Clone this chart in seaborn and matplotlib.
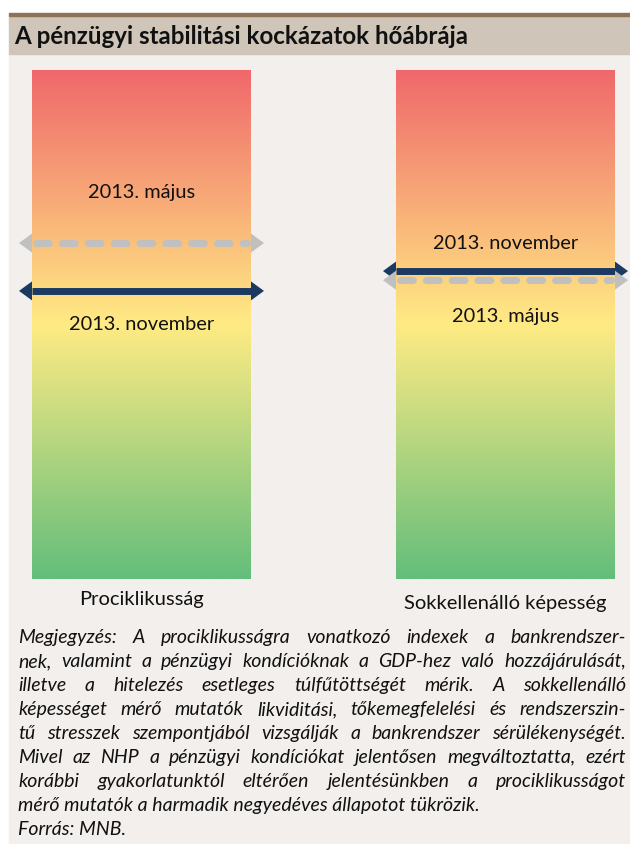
import numpy as np
import seaborn as sns
import matplotlib.pyplot as plt
from matplotlib.patches import Rectangle

# chart data
categories = ['Prociklikusság', 'Sokkellenálló képesség']
# risk level of each indicator, share of bar height measured from the bottom
level_may = [0.66, 0.587]
level_nov = [0.566, 0.605]
label_may = '2013. május'
label_nov = '2013. november'
title = 'A pénzügyi stabilitási kockázatok hőábrája'
note_lines = [
    'Megjegyzés: A prociklikusságra vonatkozó indexek a bankrendszer-',
    'nek, valamint a pénzügyi kondícióknak a GDP-hez való hozzájárulását,',
    'illetve a hitelezés esetleges túlfűtöttségét mérik. A sokkellenálló',
    'képességet mérő mutatók likviditási, tőkemegfelelési és rendszerszin-',
    'tű stresszek szempontjából vizsgálják a bankrendszer sérülékenységét.',
    'Mivel az NHP a pénzügyi kondíciókat jelentősen megváltoztatta, ezért',
    'korábbi gyakorlatunktól eltérően jelentésünkben a prociklikusságot',
    'mérő mutatók a harmadik negyedéves állapotot tükrözik.',
    'Forrás: MNB.',
]

sns.set_theme(style='white')
plt.rcParams['font.family'] = ['Lato', 'DejaVu Sans']

W, H = 630, 845
fig = plt.figure(figsize=(W / 100, H / 100), dpi=100)
ax = fig.add_axes([0, 0, 1, 1])
ax.set_xlim(0, W)
ax.set_ylim(H, 0)
ax.axis('off')

# frame: title bar and panel
ax.add_patch(Rectangle((9, 55), W - 9, H - 55, color='#F2EFEC', zorder=0))
ax.add_patch(Rectangle((9, 17), W - 9, 38, color='#CFC5B8', zorder=0))
ax.add_patch(Rectangle((9, 14), W - 9, 3, color='#8C7356', zorder=0))
ax.text(14, 37, title, fontsize=17.4, fontweight='bold', color='#111111', va='center', ha='left')

# heat bars
cmap = sns.blend_palette(['#63BE7B', '#FFEB84', '#F0686B'], as_cmap=True)
grad = np.linspace(1, 0, 256).reshape(-1, 1)
bar_top, bar_bot = 71, 580
bar_w = 219
bar_left = [32, 396]

navy = '#1B3A62'
grey = '#C0C0C0'
head_len, head_half = 13, 9.5


def level_to_y(v):
    return bar_bot - v * (bar_bot - bar_top)


def draw_arrow(x0, x1, y, color, dashed):
    tl, tr = x0 - head_len, x1 + head_len
    if dashed:
        ax.plot([x0 + 4, x1 - 4], [y, y], color=color, lw=5, dashes=(1.86, 1.86),
                dash_capstyle='round', zorder=3)
    else:
        ax.plot([x0, x1], [y, y], color=color, lw=5, solid_capstyle='butt', zorder=3)
    ax.fill([tl, x0, x0], [y, y - head_half, y + head_half], color=color, lw=0, zorder=3)
    ax.fill([tr, x1, x1], [y, y - head_half, y + head_half], color=color, lw=0, zorder=3)


# label offsets from the arrow: (may, november)
label_off = [(-52, 33), (35, -29)]

for i, cat in enumerate(categories):
    x0 = bar_left[i]
    x1 = x0 + bar_w
    xc = (x0 + x1) / 2
    ax.imshow(grad, cmap=cmap, aspect='auto', extent=(x0, x1, bar_bot, bar_top),
              vmin=0, vmax=1, zorder=1)
    y_may = level_to_y(level_may[i])
    y_nov = level_to_y(level_nov[i])
    draw_arrow(x0, x1, y_nov, navy, False)
    draw_arrow(x0, x1, y_may, grey, True)
    ax.text(xc, y_may + label_off[i][0], label_may, fontsize=14.4, ha='center', va='center', color='#111111', zorder=4)
    ax.text(xc, y_nov + label_off[i][1], label_nov, fontsize=14.4, ha='center', va='center', color='#111111', zorder=4)
    ax.text(xc, 600 + 4 * i, cat, fontsize=14.5, ha='center', va='center', color='#111111')

ax.set_xlim(0, W)
ax.set_ylim(H, 0)

# justified notes
renderer = fig.canvas.get_renderer()
note_left, note_right = 18, 626
note_y0, note_dy = 638, 24
note_fs = 14
for j, line in enumerate(note_lines):
    y = note_y0 + j * note_dy
    if j >= len(note_lines) - 2:
        ax.text(note_left, y, line, fontsize=note_fs, style='italic', ha='left', va='center', color='#111111')
        continue
    words = line.split(' ')
    arts = [ax.text(0, y, w, fontsize=note_fs, style='italic', ha='left', va='center', color='#111111')
            for w in words]
    widths = [a.get_window_extent(renderer).width for a in arts]
    gap = (note_right - note_left - sum(widths)) / (len(words) - 1)
    x = note_left
    for a, w in zip(arts, widths):
        a.set_x(x)
        x += w + gap

fig.savefig('out.png', dpi=100)
